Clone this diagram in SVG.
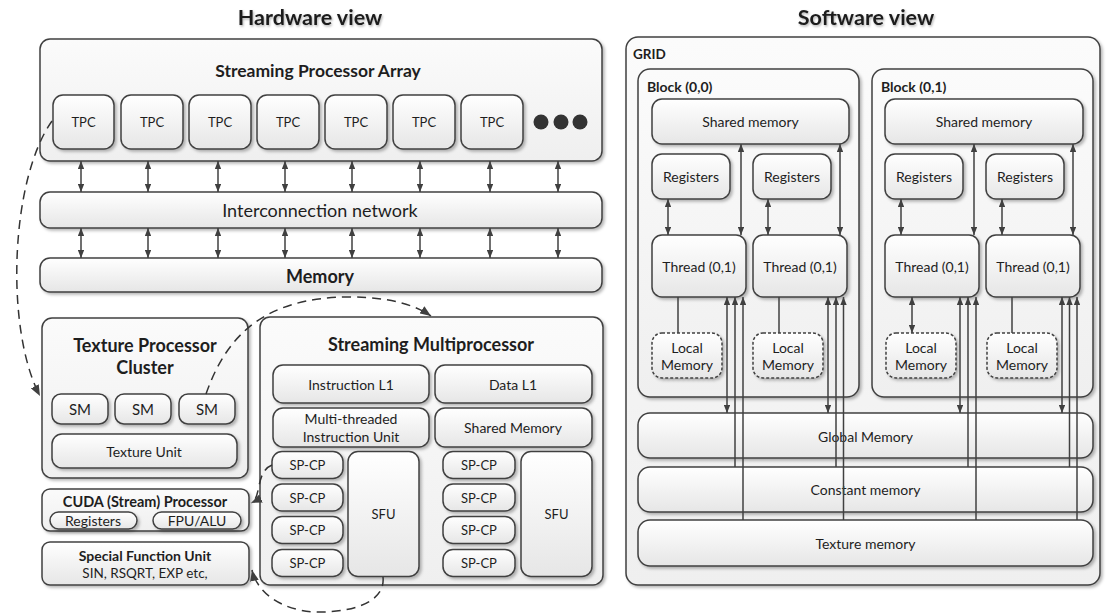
<svg xmlns="http://www.w3.org/2000/svg" width="1106" height="613" viewBox="0 0 1106 613">
<defs>
<linearGradient id="g" x1="0" y1="0" x2="0" y2="1"><stop offset="0" stop-color="#ffffff"/><stop offset="1" stop-color="#e6e6e6"/></linearGradient>
<linearGradient id="gc" x1="0" y1="0" x2="0" y2="1"><stop offset="0" stop-color="#fbfbfb"/><stop offset="1" stop-color="#efefef"/></linearGradient>
<filter id="sh" x="-10%" y="-10%" width="130%" height="140%"><feDropShadow dx="2" dy="2" stdDeviation="1.5" flood-color="#000" flood-opacity="0.28"/></filter>
<filter id="ts" x="-10%" y="-30%" width="130%" height="170%"><feDropShadow dx="1" dy="1.5" stdDeviation="1" flood-color="#000" flood-opacity="0.3"/></filter>
<marker id="ah" viewBox="0 0 10 8" refX="10" refY="4" markerWidth="8" markerHeight="6.4" markerUnits="userSpaceOnUse" orient="auto-start-reverse"><path d="M0,0 L10,4 L0,8 z" fill="#404040"/></marker>
<marker id="dh" viewBox="0 0 10 8" refX="10" refY="4" markerWidth="11" markerHeight="8.8" markerUnits="userSpaceOnUse" orient="auto"><path d="M0,0 L10,4 L0,8 z" fill="#404040"/></marker>
</defs>
<style>
text{font-family:Lato,"Open Sans","Liberation Sans",sans-serif;fill:#1e1e1e;text-anchor:middle;dominant-baseline:central}
.b{fill:url(#g);stroke:#404040;stroke-width:1.5;filter:url(#sh)}
.c{fill:url(#gc);stroke:#404040;stroke-width:1.5;filter:url(#sh)}
.l{fill:url(#g);stroke:#404040;stroke-width:1.5;stroke-dasharray:3 2;filter:url(#sh)}
.bt{font-weight:bold}
.t{font-size:14px}
.s{font-size:13px}
.ttl{font-size:21.5px;font-weight:bold;filter:url(#ts)}
.h{font-size:18px;font-weight:bold}
.st{text-anchor:start}
.ar{stroke:#404040;stroke-width:1.5;fill:none;marker-start:url(#ah);marker-end:url(#ah)}
.au{stroke:#404040;stroke-width:1.5;fill:none;marker-end:url(#ah)}
.ln{stroke:#404040;stroke-width:1.5;fill:none}
.dd{stroke:#333;stroke-width:1.5;fill:none;stroke-dasharray:9 6;marker-end:url(#dh)}
</style>
<rect width="1106" height="613" fill="#fff"/>
<text class="ttl" x="310" y="17">Hardware view</text>
<text class="ttl" x="866" y="17">Software view</text>

<g id="spa"><rect class="c" x="40" y="39" width="562" height="122" rx="10"/><text class="h" x="318" y="70" style="font-size:17.5px">Streaming Processor Array</text></g>
<g id="tpc1"><rect class="b" x="53" y="95" width="61" height="54" rx="10"/><text class="s" x="83.5" y="122">TPC</text></g>
<g id="tpc2"><rect class="b" x="121" y="95" width="62" height="54" rx="10"/><text class="s" x="152" y="122">TPC</text></g>
<g id="tpc3"><rect class="b" x="189" y="95" width="62" height="54" rx="10"/><text class="s" x="220" y="122">TPC</text></g>
<g id="tpc4"><rect class="b" x="257" y="95" width="62" height="54" rx="10"/><text class="s" x="288" y="122">TPC</text></g>
<g id="tpc5"><rect class="b" x="325" y="95" width="62" height="54" rx="10"/><text class="s" x="356" y="122">TPC</text></g>
<g id="tpc6"><rect class="b" x="393" y="95" width="62" height="54" rx="10"/><text class="s" x="424" y="122">TPC</text></g>
<g id="tpc7"><rect class="b" x="461" y="95" width="62" height="54" rx="10"/><text class="s" x="492" y="122">TPC</text></g>
<g id="dots" fill="#333"><circle cx="541" cy="122" r="7.5"/><circle cx="561" cy="122" r="7.5"/><circle cx="580" cy="122" r="7.5"/></g>
<g id="icn"><rect class="b" x="40" y="192" width="562" height="36" rx="10"/><text x="320" y="210" style="font-size:18px">Interconnection network</text></g>
<g id="mem"><rect class="b" x="40" y="258" width="562" height="34" rx="10"/><text class="h" x="320" y="275.5">Memory</text></g>

<g id="tpcl"><rect class="c" x="42" y="318" width="206" height="160" rx="10"/><text class="h" x="145" y="345">Texture Processor</text><text class="h" x="145" y="367">Cluster</text></g>
<g id="sm1"><rect class="b" x="52" y="394" width="56" height="30" rx="9"/><text style="font-size:15px" x="80" y="409">SM</text></g>
<g id="sm2"><rect class="b" x="115" y="394" width="56" height="30" rx="9"/><text style="font-size:15px" x="143" y="409">SM</text></g>
<g id="sm3"><rect class="b" x="179" y="394" width="56" height="30" rx="9"/><text style="font-size:15px" x="207" y="409">SM</text></g>
<g id="texu"><rect class="b" x="52" y="434" width="185" height="34" rx="10"/><text class="t" x="144" y="451">Texture Unit</text></g>

<g id="cuda"><rect class="c" x="42" y="489" width="207" height="42" rx="8"/><text class="bt" style="font-size:14.5px" x="145" y="501">CUDA (Stream) Processor</text>
<rect class="b" x="50" y="512" width="87" height="17" rx="8.5"/><text class="t" x="93" y="520.5">Registers</text>
<rect class="b" x="153" y="512" width="88" height="17" rx="8.5"/><text class="t" x="197" y="520.5">FPU/ALU</text></g>
<g id="sfunit"><rect class="b" x="42" y="542" width="207" height="43" rx="8"/><text class="t bt" x="145" y="555">Special Function Unit</text><text class="t" style="font-size:13.5px" x="145" y="573">SIN, RSQRT, EXP etc,</text></g>

<g id="smp"><rect class="c" x="260" y="317" width="343" height="268" rx="10"/><text class="h" x="431" y="344">Streaming Multiprocessor</text></g>
<g id="il1"><rect class="b" x="273" y="365" width="156" height="38" rx="10"/><text class="t" x="351" y="384">Instruction L1</text></g>
<g id="dl1"><rect class="b" x="435" y="365" width="157" height="38" rx="10"/><text class="t" x="513" y="384">Data L1</text></g>
<g id="mtiu"><rect class="b" x="273" y="408" width="156" height="39" rx="10"/><text class="t" x="351" y="418.5">Multi-threaded</text><text class="t" x="351" y="436">Instruction Unit</text></g>
<g id="shm"><rect class="b" x="435" y="408" width="157" height="39" rx="10"/><text class="t" x="513" y="427.5">Shared Memory</text></g>
<g id="spl1"><rect class="b" x="272" y="451.5" width="71" height="27" rx="10"/><text class="s" x="307.5" y="465">SP-CP</text></g>
<g id="spl2"><rect class="b" x="272" y="484" width="71" height="27" rx="10"/><text class="s" x="307.5" y="497.5">SP-CP</text></g>
<g id="spl3"><rect class="b" x="272" y="516.5" width="71" height="27" rx="10"/><text class="s" x="307.5" y="530">SP-CP</text></g>
<g id="spl4"><rect class="b" x="272" y="549.5" width="71" height="27" rx="10"/><text class="s" x="307.5" y="563">SP-CP</text></g>
<g id="sfu1"><rect class="b" x="348" y="451.5" width="71" height="125" rx="10"/><text class="s" x="383.5" y="514">SFU</text></g>
<g id="spr1"><rect class="b" x="443" y="451.5" width="72" height="27" rx="10"/><text class="s" x="479" y="465">SP-CP</text></g>
<g id="spr2"><rect class="b" x="443" y="484" width="72" height="27" rx="10"/><text class="s" x="479" y="497.5">SP-CP</text></g>
<g id="spr3"><rect class="b" x="443" y="516.5" width="72" height="27" rx="10"/><text class="s" x="479" y="530">SP-CP</text></g>
<g id="spr4"><rect class="b" x="443" y="549.5" width="72" height="27" rx="10"/><text class="s" x="479" y="563">SP-CP</text></g>
<g id="sfu2"><rect class="b" x="521" y="451.5" width="71" height="125" rx="10"/><text class="s" x="556.5" y="514">SFU</text></g>

<g id="grid"><rect class="c" x="626" y="37" width="474" height="548" rx="12"/><text class="bt st" style="font-size:13.5px" x="633" y="54">GRID</text></g>
<g id="blk0"><rect class="c" x="638" y="69" width="221" height="328" rx="12"/><text class="t bt st" x="647" y="86">Block (0,0)</text></g>
<g id="blk1"><rect class="c" x="872" y="69" width="221" height="328" rx="12"/><text class="t bt st" x="881" y="86">Block (0,1)</text></g>
<g id="sh0"><rect class="b" x="652" y="99" width="197" height="45" rx="10"/><text class="t" x="750.5" y="121.5">Shared memory</text></g>
<g id="sh1"><rect class="b" x="885" y="99" width="198" height="45" rx="10"/><text class="t" x="984" y="121.5">Shared memory</text></g>
<g id="rg00"><rect class="b" x="652" y="154" width="78" height="45" rx="10"/><text class="t" x="691" y="176.5">Registers</text></g>
<g id="rg01"><rect class="b" x="753" y="154" width="78" height="45" rx="10"/><text class="t" x="792" y="176.5">Registers</text></g>
<g id="rg10"><rect class="b" x="885" y="154" width="78" height="45" rx="10"/><text class="t" x="924" y="176.5">Registers</text></g>
<g id="rg11"><rect class="b" x="986" y="154" width="78" height="45" rx="10"/><text class="t" x="1025" y="176.5">Registers</text></g>
<g id="th00"><rect class="b" x="652" y="235" width="94" height="62" rx="10"/><text class="t" x="699" y="266">Thread (0,1)</text></g>
<g id="th01"><rect class="b" x="753" y="235" width="94" height="62" rx="10"/><text class="t" x="800" y="266">Thread (0,1)</text></g>
<g id="th10"><rect class="b" x="885" y="235" width="94" height="62" rx="10"/><text class="t" x="932" y="266">Thread (0,1)</text></g>
<g id="th11"><rect class="b" x="986" y="235" width="94" height="62" rx="10"/><text class="t" x="1033" y="266">Thread (0,1)</text></g>
<g id="lm00"><rect class="l" x="652" y="333" width="70" height="45" rx="10"/><text class="t" x="687" y="347">Local</text><text class="t" x="687" y="364.5">Memory</text></g>
<g id="lm01"><rect class="l" x="753" y="333" width="70" height="45" rx="10"/><text class="t" x="788" y="347">Local</text><text class="t" x="788" y="364.5">Memory</text></g>
<g id="lm10"><rect class="l" x="886" y="333" width="70" height="45" rx="10"/><text class="t" x="921" y="347">Local</text><text class="t" x="921" y="364.5">Memory</text></g>
<g id="lm11"><rect class="l" x="987" y="333" width="70" height="45" rx="10"/><text class="t" x="1022" y="347">Local</text><text class="t" x="1022" y="364.5">Memory</text></g>
<g id="gmem"><rect class="b" x="638" y="413" width="455" height="45" rx="12"/><text class="t" x="865.5" y="436">Global Memory</text></g>
<g id="cmem"><rect class="b" x="638" y="467" width="455" height="45" rx="12"/><text class="t" x="865.5" y="489.5">Constant memory</text></g>
<g id="tmem"><rect class="b" x="638" y="520" width="455" height="46" rx="12"/><text class="t" x="865.5" y="543">Texture memory</text></g>

<g id="connectors">
<line class="ar" x1="81" y1="161" x2="81" y2="192"/><line class="ar" x1="148" y1="161" x2="148" y2="192"/><line class="ar" x1="218" y1="161" x2="218" y2="192"/><line class="ar" x1="285" y1="161" x2="285" y2="192"/><line class="ar" x1="352" y1="161" x2="352" y2="192"/><line class="ar" x1="420" y1="161" x2="420" y2="192"/><line class="ar" x1="490" y1="161" x2="490" y2="192"/><line class="ar" x1="558" y1="161" x2="558" y2="192"/>
<line class="ar" x1="81" y1="228" x2="81" y2="258"/><line class="ar" x1="148" y1="228" x2="148" y2="258"/><line class="ar" x1="218" y1="228" x2="218" y2="258"/><line class="ar" x1="285" y1="228" x2="285" y2="258"/><line class="ar" x1="352" y1="228" x2="352" y2="258"/><line class="ar" x1="420" y1="228" x2="420" y2="258"/><line class="ar" x1="490" y1="228" x2="490" y2="258"/><line class="ar" x1="558" y1="228" x2="558" y2="258"/>
<path class="dd" d="M52,121 C10,180 5,330 40,396"/>
<path class="dd" d="M206,394 C225,340 260,297 350,297 C390,297 415,305 431,316"/>
<path class="dd" d="M272,465 C255,472 262,498 251,503"/>
<path class="dd" d="M383,577 C386,605 345,613 315,612 C280,610 257,592 252,570"/>
<line class="ar" x1="668" y1="199" x2="668" y2="235"/><line class="ar" x1="768" y1="199" x2="768" y2="235"/><line class="ar" x1="901" y1="199" x2="901" y2="235"/><line class="ar" x1="1002" y1="199" x2="1002" y2="235"/>
<line class="ar" x1="741" y1="144" x2="741" y2="235"/><line class="ar" x1="840" y1="144" x2="840" y2="235"/><line class="ar" x1="974" y1="144" x2="974" y2="235"/><line class="ar" x1="1073" y1="144" x2="1073" y2="235"/>
<line class="ln" x1="678" y1="297" x2="678" y2="333"/><line class="ln" x1="779" y1="297" x2="779" y2="333"/><line class="ln" x1="1012" y1="297" x2="1012" y2="333"/>
<line class="ar" x1="912" y1="297" x2="912" y2="333"/>
<line class="ar" x1="727" y1="297" x2="727" y2="413"/><line class="ar" x1="828" y1="297" x2="828" y2="413"/><line class="ar" x1="960" y1="297" x2="960" y2="413"/><line class="ar" x1="1062" y1="297" x2="1062" y2="413"/>
<line class="au" x1="735" y1="467" x2="735" y2="297"/><line class="au" x1="836" y1="467" x2="836" y2="297"/><line class="au" x1="968" y1="467" x2="968" y2="297"/><line class="au" x1="1069.5" y1="467" x2="1069.5" y2="297"/>
<line class="au" x1="743" y1="520" x2="743" y2="297"/><line class="au" x1="843.5" y1="520" x2="843.5" y2="297"/><line class="au" x1="976" y1="520" x2="976" y2="297"/><line class="au" x1="1077" y1="520" x2="1077" y2="297"/>
</g>
</svg>
